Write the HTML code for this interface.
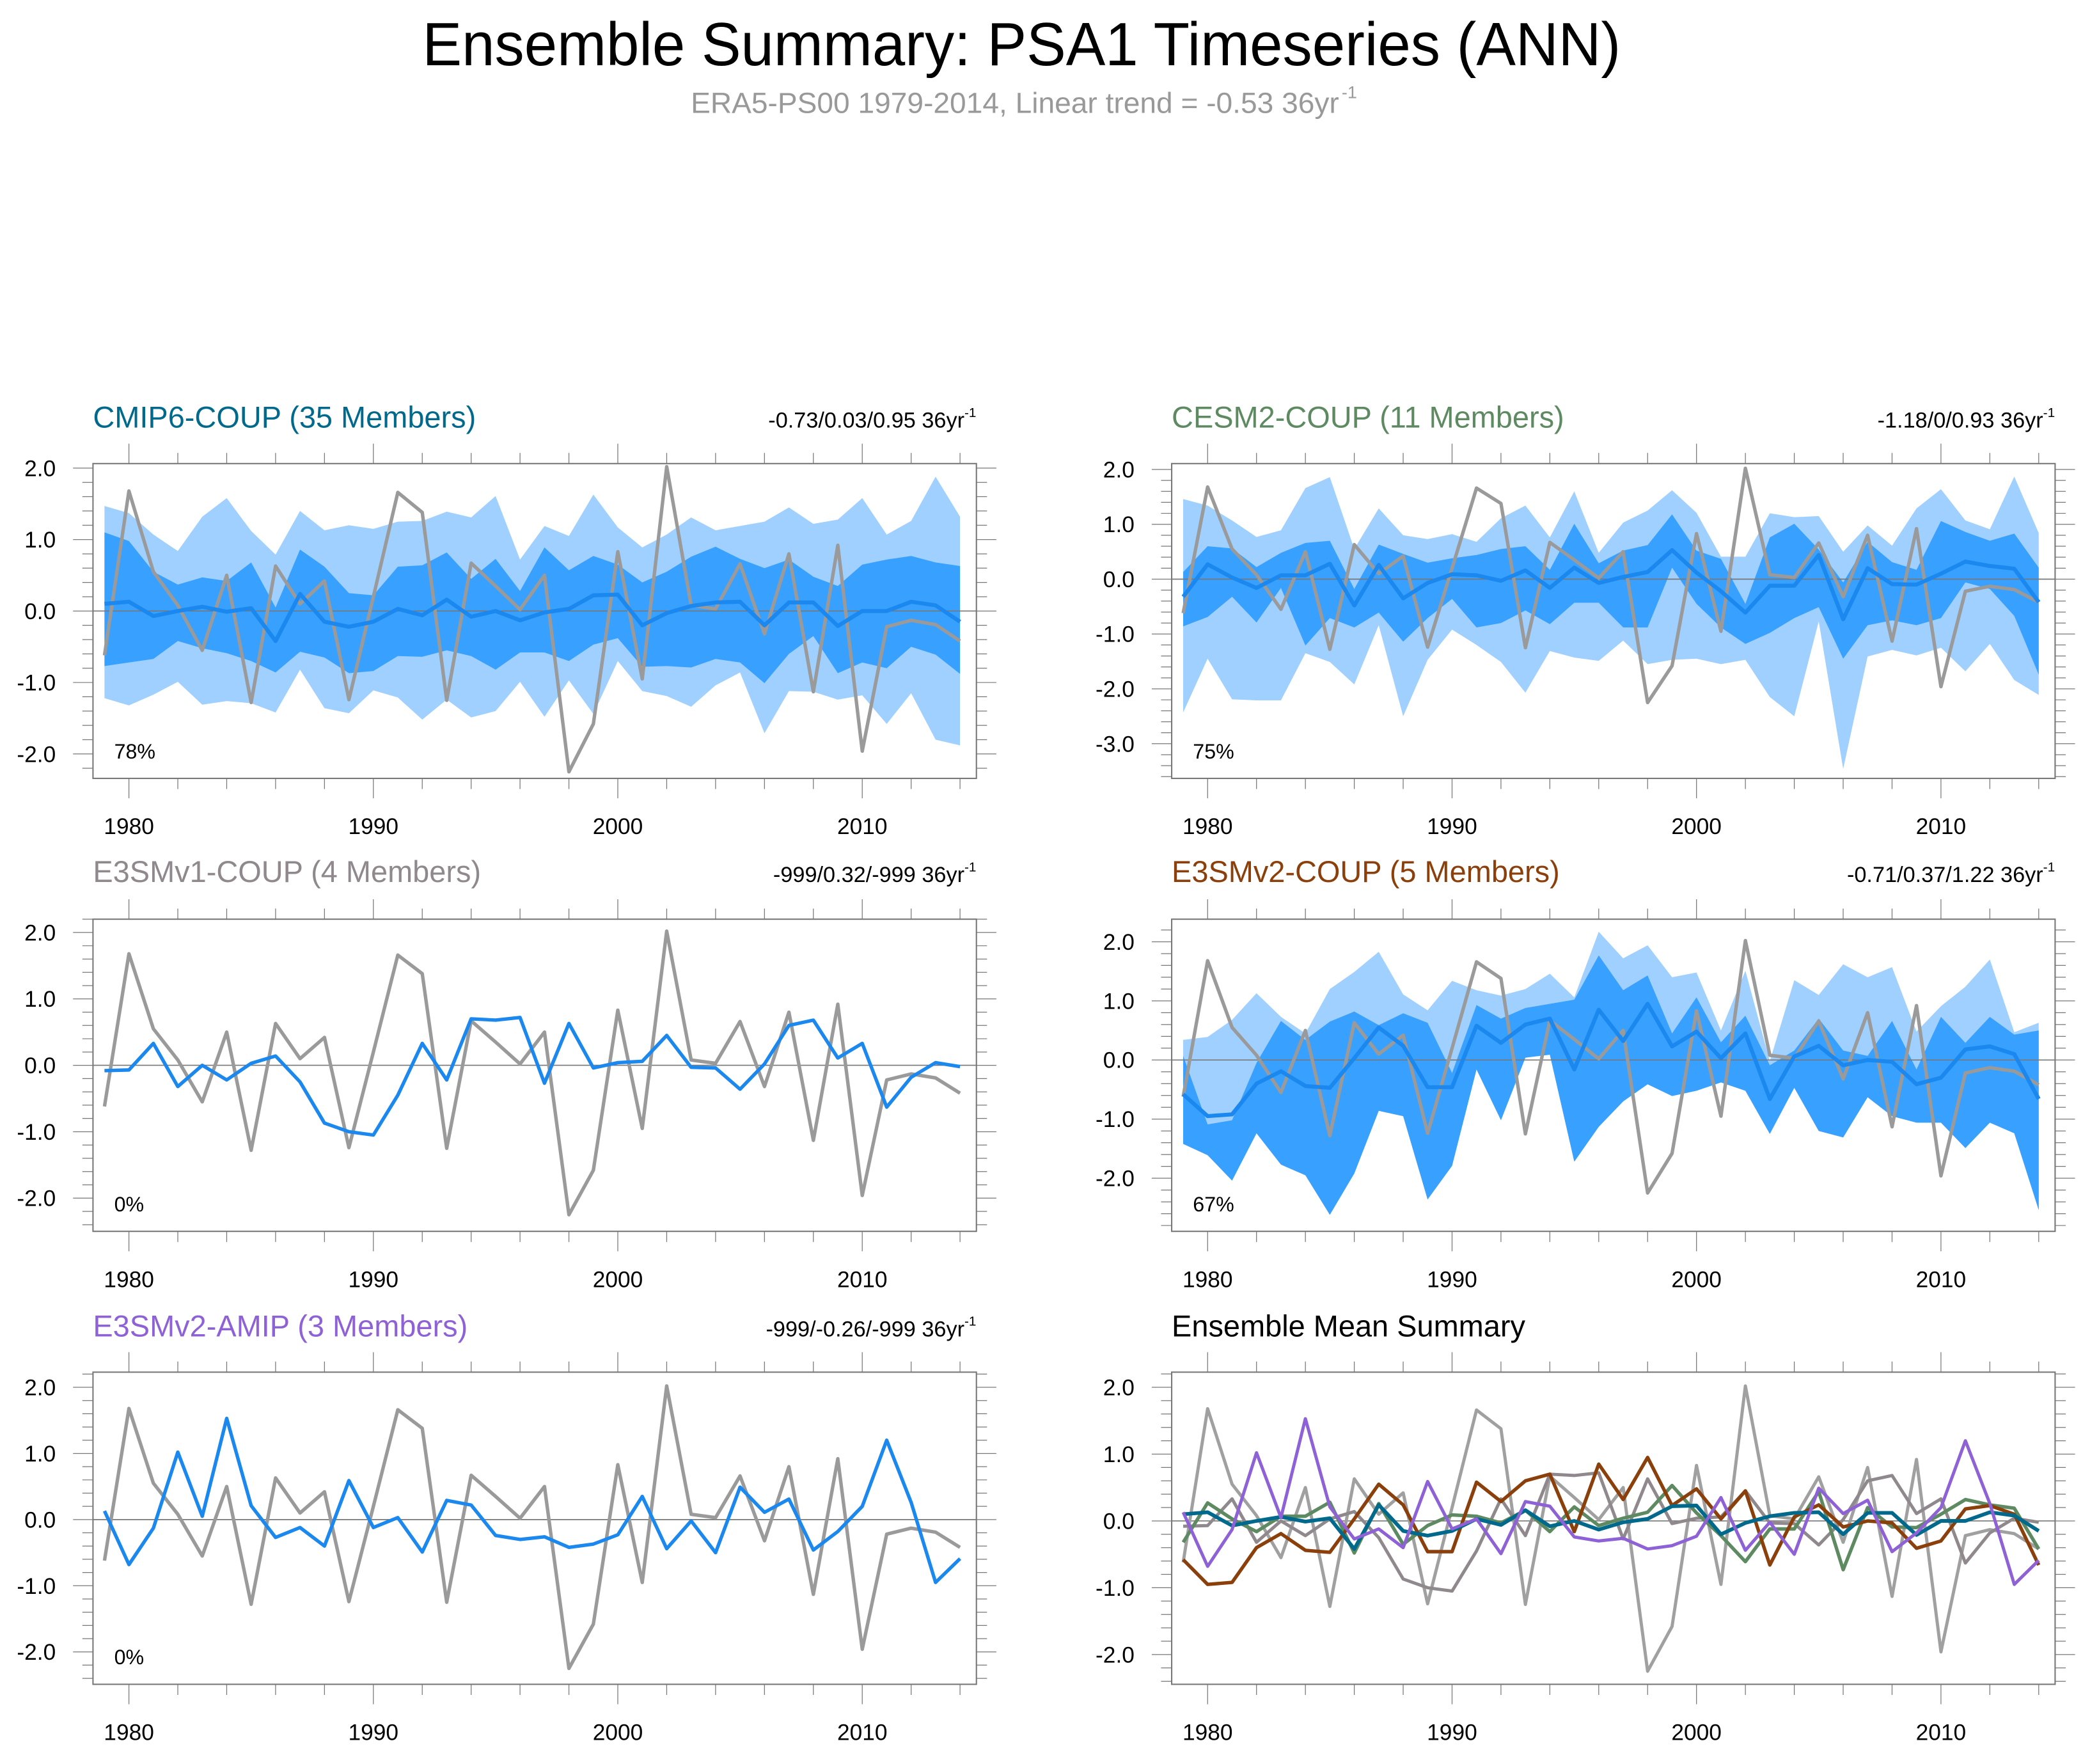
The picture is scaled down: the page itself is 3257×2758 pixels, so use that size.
<!DOCTYPE html>
<html><head><meta charset="utf-8"><style>
html,body{margin:0;padding:0;background:#fff;}
svg{display:block;}
text{font-family:"Liberation Sans",sans-serif;}
</style></head><body>
<svg id="chart" xmlns="http://www.w3.org/2000/svg" width="3257" height="2758" viewBox="0 0 1568 1328" preserveAspectRatio="none">
<text x="318" y="49" font-size="46" textLength="902" lengthAdjust="spacingAndGlyphs">Ensemble Summary: PSA1 Timeseries (ANN)</text>
<text x="520" y="85" font-size="22" fill="#999" textLength="488" lengthAdjust="spacingAndGlyphs">ERA5-PS00 1979-2014, Linear trend = -0.53 36yr</text>
<text x="1010" y="74" font-size="13" fill="#999">-1</text>
<g id="panels"></g>
</svg>
<script>
const years = [];
for (let y = 1979; y <= 2014; y++) years.push(y);
const obs = [-0.62,1.68,0.55,0.08,-0.55,0.50,-1.28,0.63,0.10,0.42,-1.24,0.20,1.66,1.38,-1.25,0.67,0.35,0.02,0.50,-2.25,-1.58,0.83,-0.95,2.02,0.08,0.03,0.66,-0.32,0.80,-1.13,0.92,-1.96,-0.22,-0.13,-0.19,-0.42];
const cmip6Mean = [0.10,0.13,-0.07,0.0,0.06,-0.01,0.04,-0.42,0.24,-0.15,-0.22,-0.15,0.03,-0.06,0.16,-0.08,0.0,-0.13,-0.02,0.03,0.22,0.23,-0.20,-0.03,0.07,0.12,0.13,-0.20,0.12,0.12,-0.21,0.0,0.0,0.13,0.08,-0.15];
const cmip6DarkHi = [1.10,0.98,0.55,0.37,0.47,0.42,0.68,0.05,0.86,0.62,0.25,0.22,0.62,0.64,0.82,0.45,0.73,0.28,0.89,0.57,0.77,0.65,0.40,0.55,0.76,0.90,0.73,0.60,0.72,0.48,0.35,0.65,0.72,0.77,0.68,0.63];
const cmip6DarkLo = [-0.77,-0.72,-0.67,-0.42,-0.52,-0.59,-0.70,-0.86,-0.57,-0.65,-0.87,-0.84,-0.63,-0.64,-0.55,-0.63,-0.82,-0.58,-0.58,-0.70,-0.47,-0.38,-0.78,-0.77,-0.79,-0.67,-0.72,-1.01,-0.60,-0.35,-0.87,-0.72,-0.80,-0.50,-0.61,-0.88];
const cmip6LightHi = [1.47,1.37,1.07,0.84,1.32,1.58,1.12,0.79,1.40,1.13,1.20,1.15,1.25,1.26,1.39,1.31,1.61,0.72,1.19,1.05,1.63,1.17,0.89,1.07,1.31,1.13,1.19,1.25,1.45,1.22,1.28,1.58,1.07,1.26,1.88,1.32];
const cmip6LightLo = [-1.22,-1.32,-1.17,-0.99,-1.31,-1.26,-1.29,-1.42,-0.82,-1.36,-1.43,-1.11,-1.21,-1.52,-1.24,-1.49,-1.40,-0.99,-1.48,-0.97,-1.44,-0.70,-1.12,-1.19,-1.34,-1.04,-0.86,-1.71,-1.12,-1.13,-1.24,-1.18,-1.58,-1.15,-1.80,-1.88];
const cesm2Mean = [-0.32,0.27,0.03,-0.16,0.07,0.07,0.28,-0.48,0.26,-0.35,-0.07,0.09,0.07,-0.03,0.16,-0.16,0.21,-0.07,0.04,0.13,0.53,0.12,-0.22,-0.61,-0.12,-0.12,0.44,-0.73,0.20,-0.09,-0.10,0.10,0.32,0.24,0.19,-0.42];
const cesm2DarkHi = [0.13,0.60,0.56,0.22,0.48,0.66,0.70,-0.18,0.63,0.46,0.30,0.38,0.44,0.55,0.60,0.17,1.01,0.29,0.52,0.62,1.18,0.52,0.37,-0.45,0.76,1.01,0.54,-0.06,0.68,0.31,0.17,1.06,0.86,0.70,0.83,0.21];
const cesm2DarkLo = [-0.86,-0.69,-0.32,-0.79,-0.16,-1.21,-0.71,-0.88,-0.61,-1.14,-0.71,-0.36,-0.88,-0.80,-0.57,-0.82,-0.43,-0.43,-0.88,-0.88,0.21,-0.45,-0.88,-1.18,-0.98,-0.71,-0.51,-1.45,-0.84,-0.75,-0.84,-0.71,-0.06,-0.18,-0.67,-1.74];
const cesm2LightHi = [1.46,1.34,1.07,0.77,0.89,1.66,1.86,0.55,1.29,0.80,0.73,0.82,0.68,1.11,1.34,0.76,1.60,0.48,1.03,1.25,1.62,1.21,0.41,0.41,1.20,1.13,1.15,0.50,0.98,0.61,1.29,1.64,1.07,0.91,1.87,0.84];
const cesm2LightLo = [-2.43,-1.45,-2.19,-2.21,-2.21,-1.35,-1.51,-1.92,-0.84,-2.50,-1.47,-0.92,-1.20,-1.51,-2.07,-1.31,-1.43,-1.49,-1.12,-1.55,-1.47,-1.45,-1.55,-1.47,-2.15,-2.50,-0.77,-3.46,-1.41,-1.29,-1.39,-1.25,-1.68,-1.18,-1.84,-2.11];
const e3smv1Mean = [-0.08,-0.07,0.33,-0.32,0.0,-0.22,0.03,0.14,-0.25,-0.87,-1.0,-1.05,-0.45,0.33,-0.22,0.70,0.68,0.72,-0.27,0.63,-0.04,0.04,0.06,0.45,-0.03,-0.04,-0.36,0.02,0.60,0.68,0.11,0.33,-0.63,-0.18,0.04,-0.02];
const e3smv2Mean = [-0.58,-0.95,-0.92,-0.40,-0.19,-0.44,-0.47,0.03,0.55,0.24,-0.46,-0.46,0.58,0.29,0.60,0.70,-0.16,0.85,0.32,0.95,0.23,0.48,0.03,0.45,-0.66,0.06,0.24,-0.09,0.0,-0.03,-0.41,-0.30,0.18,0.23,0.10,-0.66];
const e3smv2DarkHi = [0.07,-1.09,-1.02,-0.05,0.66,0.34,0.65,0.82,0.59,0.79,0.63,-0.22,0.93,0.70,0.88,0.95,1.02,1.77,1.18,1.43,0.45,1.06,0.30,0.75,-0.09,0.16,0.70,0.16,0.07,0.66,-0.16,0.73,0.29,0.73,0.43,0.50];
const e3smv2DarkLo = [-1.42,-1.61,-2.04,-1.24,-1.77,-1.95,-2.62,-1.92,-0.86,-0.95,-2.36,-1.79,-0.16,-1.02,0.04,0.09,-1.72,-1.13,-0.70,-0.41,-0.61,-0.52,-0.38,-0.52,-1.25,-0.47,-1.20,-1.31,-0.63,-0.95,-1.06,-1.06,-1.49,-1.06,-1.24,-2.54];
const e3smv2LightHi = [0.34,0.39,0.68,1.13,0.73,0.45,1.20,1.49,1.83,1.11,0.84,1.34,1.18,1.09,1.20,1.46,1.06,2.17,1.72,1.94,1.40,1.48,0.50,1.51,-0.02,1.35,1.10,1.62,1.40,1.57,0.48,0.91,1.24,1.70,0.47,0.63];
const amipMean = [0.13,-0.68,-0.13,1.02,0.05,1.53,0.21,-0.27,-0.12,-0.40,0.59,-0.12,0.03,-0.49,0.29,0.22,-0.24,-0.30,-0.26,-0.42,-0.37,-0.23,0.35,-0.44,-0.02,-0.50,0.49,0.11,0.31,-0.46,-0.18,0.20,1.20,0.26,-0.95,-0.59];

const NS = "http://www.w3.org/2000/svg";
const root = document.getElementById('panels');
function el(tag, attrs, parent, txt) {
  const e = document.createElementNS(NS, tag);
  for (const k in attrs) e.setAttribute(k, attrs[k]);
  if (txt !== undefined) e.textContent = txt;
  (parent || root).appendChild(e);
  return e;
}
const LIGHT = '#a0d0ff', DARK = '#38a0ff', MEANC = '#1a88ee', OBSC = '#9a9a9a';

function panel(cfg) {
  const g = el('g', {});
  
  
  const X = yr => cfg.x0 + (yr - 1978.53) / (2014.67 - 1978.53) * (cfg.x1 - cfg.x0);
  const Y = v => cfg.zero - v * cfg.scale;
  const t = el('text', {x: cfg.x0, y: cfg.ty, 'font-size': 22.6, fill: cfg.tcolor}, g, cfg.title);
  
  
  if (cfg.trend) {
    const tr = el('text', {x: cfg.x1 - 9, y: cfg.ty, 'font-size': 16.5, 'text-anchor': 'end'}, g, cfg.trend);
    
    
    el('text', {x: cfg.x1 - 9, y: cfg.ty - 8, 'font-size': 10}, g, '-1');
  }
  const clipId = 'c' + cfg.name;
  const cp = el('clipPath', {id: clipId}, g);
  el('rect', {x: cfg.x0, y: cfg.y0, width: cfg.x1 - cfg.x0, height: cfg.y1 - cfg.y0}, cp);
  const inner = el('g', {'clip-path': 'url(#' + clipId + ')'}, g);
  function band(hi, lo, col, nm) {
    let d = '';
    hi.forEach((v, i) => d += (i ? 'L' : 'M') + X(years[i]).toFixed(2) + ',' + Y(v).toFixed(2));
    for (let i = lo.length - 1; i >= 0; i--) d += 'L' + X(years[i]).toFixed(2) + ',' + Y(lo[i]).toFixed(2);
    const p = el('path', {d: d + 'Z', fill: col}, inner);
    
    
  }
  function line(vals, col, w, nm) {
    const pts = vals.map((v, i) => X(years[i]).toFixed(2) + ',' + Y(v).toFixed(2)).join(' ');
    const p = el('polyline', {points: pts, fill: 'none', stroke: col, 'stroke-width': w, 'stroke-linejoin': 'round'}, inner);
    
    
  }
  if (cfg.lightHi) band(cfg.lightHi, cfg.lightLo, LIGHT, cfg.name + '-outer-band');
  if (cfg.darkHi) band(cfg.darkHi, cfg.darkLo, DARK, cfg.name + '-inner-band');
  el('line', {x1: cfg.x0, x2: cfg.x1, y1: Y(0), y2: Y(0), stroke: '#777', 'stroke-width': 0.8}, inner);
  (cfg.lines || []).forEach(l => line(l.v, l.c, l.w, l.n));
  const fr = el('rect', {x: cfg.x0, y: cfg.y0, width: cfg.x1 - cfg.x0, height: cfg.y1 - cfg.y0, fill: 'none', stroke: '#777', 'stroke-width': 1}, g);
  
  
  for (let yr = 1980; yr <= 2014; yr += 2) {
    const x = X(yr), major = yr % 10 === 0;
    const L = major ? 15 : 8;
    el('line', {x1: x, x2: x, y1: cfg.y0, y2: cfg.y0 - L, stroke: '#777', 'stroke-width': 0.6}, g);
    el('line', {x1: x, x2: x, y1: cfg.y1, y2: cfg.y1 + L, stroke: '#777', 'stroke-width': 0.6}, g);
    if (major) {
      const tl = el('text', {x: x, y: cfg.y1 + 42, 'font-size': 17, 'text-anchor': 'middle'}, g, String(yr));
      
      
    }
  }
  const vmax = (cfg.zero - cfg.y0) / cfg.scale, vmin = (cfg.zero - cfg.y1) / cfg.scale;
  for (let k = Math.ceil(vmin * 5 - 1e-6); k <= Math.floor(vmax * 5 + 1e-6); k++) {
    const v = k / 5, y = Y(v), major = k % 5 === 0;
    const L = major ? 15 : 8;
    el('line', {x1: cfg.x0, x2: cfg.x0 - L, y1: y, y2: y, stroke: '#777', 'stroke-width': 0.6}, g);
    el('line', {x1: cfg.x1, x2: cfg.x1 + L, y1: y, y2: y, stroke: '#777', 'stroke-width': 0.6}, g);
    if (major) {
      const tl = el('text', {x: cfg.x0 - 28, y: y + 6, 'font-size': 17, 'text-anchor': 'end'}, g, v.toFixed(1));
      
      
    }
  }
  if (cfg.pct) {
    const pt = el('text', {x: cfg.x0 + 16, y: cfg.y1 - 15, 'font-size': 15.5}, g, cfg.pct);
    
    
  }
}
const L1 = 70, R1 = 735, L2 = 882, R2 = 1547;
panel({name:'cmip6', x0:L1, x1:R1, y0:349, y1:586, zero:460, scale:53.8, ty:322, title:'CMIP6-COUP (35 Members)', tcolor:'#00698c', trend:'-0.73/0.03/0.95 36yr', pct:'78%',
  lightHi:cmip6LightHi, lightLo:cmip6LightLo, darkHi:cmip6DarkHi, darkLo:cmip6DarkLo,
  lines:[{v:obs,c:OBSC,w:2.6,n:'era5-line'},{v:cmip6Mean,c:MEANC,w:3,n:'cmip6-mean-line'}]});
panel({name:'cesm2', x0:L2, x1:R2, y0:349, y1:586, zero:436, scale:41.3, ty:322, title:'CESM2-COUP (11 Members)', tcolor:'#5e8a62', trend:'-1.18/0/0.93 36yr', pct:'75%',
  lightHi:cesm2LightHi, lightLo:cesm2LightLo, darkHi:cesm2DarkHi, darkLo:cesm2DarkLo,
  lines:[{v:obs,c:OBSC,w:2.6,n:'era5-line'},{v:cesm2Mean,c:MEANC,w:3,n:'cesm2-mean-line'}]});
panel({name:'e3smv1', x0:L1, x1:R1, y0:692, y1:927, zero:802, scale:50, ty:664, title:'E3SMv1-COUP (4 Members)', tcolor:'#8f888c', trend:'-999/0.32/-999 36yr', pct:'0%',
  lines:[{v:obs,c:OBSC,w:2.6,n:'era5-line'},{v:e3smv1Mean,c:MEANC,w:2.6,n:'e3smv1-mean-line'}]});
panel({name:'e3smv2', x0:L2, x1:R2, y0:692, y1:927, zero:798, scale:44.5, ty:664, title:'E3SMv2-COUP (5 Members)', tcolor:'#8b3f0b', trend:'-0.71/0.37/1.22 36yr', pct:'67%',
  lightHi:e3smv2LightHi, lightLo:e3smv2DarkLo, darkHi:e3smv2DarkHi, darkLo:e3smv2DarkLo,
  lines:[{v:obs,c:OBSC,w:2.6,n:'era5-line'},{v:e3smv2Mean,c:MEANC,w:3,n:'e3smv2-mean-line'}]});
panel({name:'amip', x0:L1, x1:R1, y0:1033, y1:1268, zero:1144, scale:49.8, ty:1006, title:'E3SMv2-AMIP (3 Members)', tcolor:'#8e62d6', trend:'-999/-0.26/-999 36yr', pct:'0%',
  lines:[{v:obs,c:OBSC,w:2.6,n:'era5-line'},{v:amipMean,c:MEANC,w:2.6,n:'amip-mean-line'}]});
panel({name:'ensemble-mean', x0:L2, x1:R2, y0:1033, y1:1268, zero:1145, scale:50.3, ty:1006, title:'Ensemble Mean Summary', tcolor:'#000',
  lines:[{v:obs,c:'#a0a0a0',w:2.4,n:'era5-line'},{v:e3smv1Mean,c:'#8f888c',w:2.4,n:'e3smv1-mean-line'},
         {v:cesm2Mean,c:'#5e8a62',w:2.6,n:'cesm2-mean-line'},{v:e3smv2Mean,c:'#8b3f0b',w:2.6,n:'e3smv2-mean-line'},
         {v:cmip6Mean,c:'#00698c',w:2.8,n:'cmip6-mean-line'},{v:amipMean,c:'#8e62d6',w:2.4,n:'amip-mean-line'}]});
</script>
</body></html>
